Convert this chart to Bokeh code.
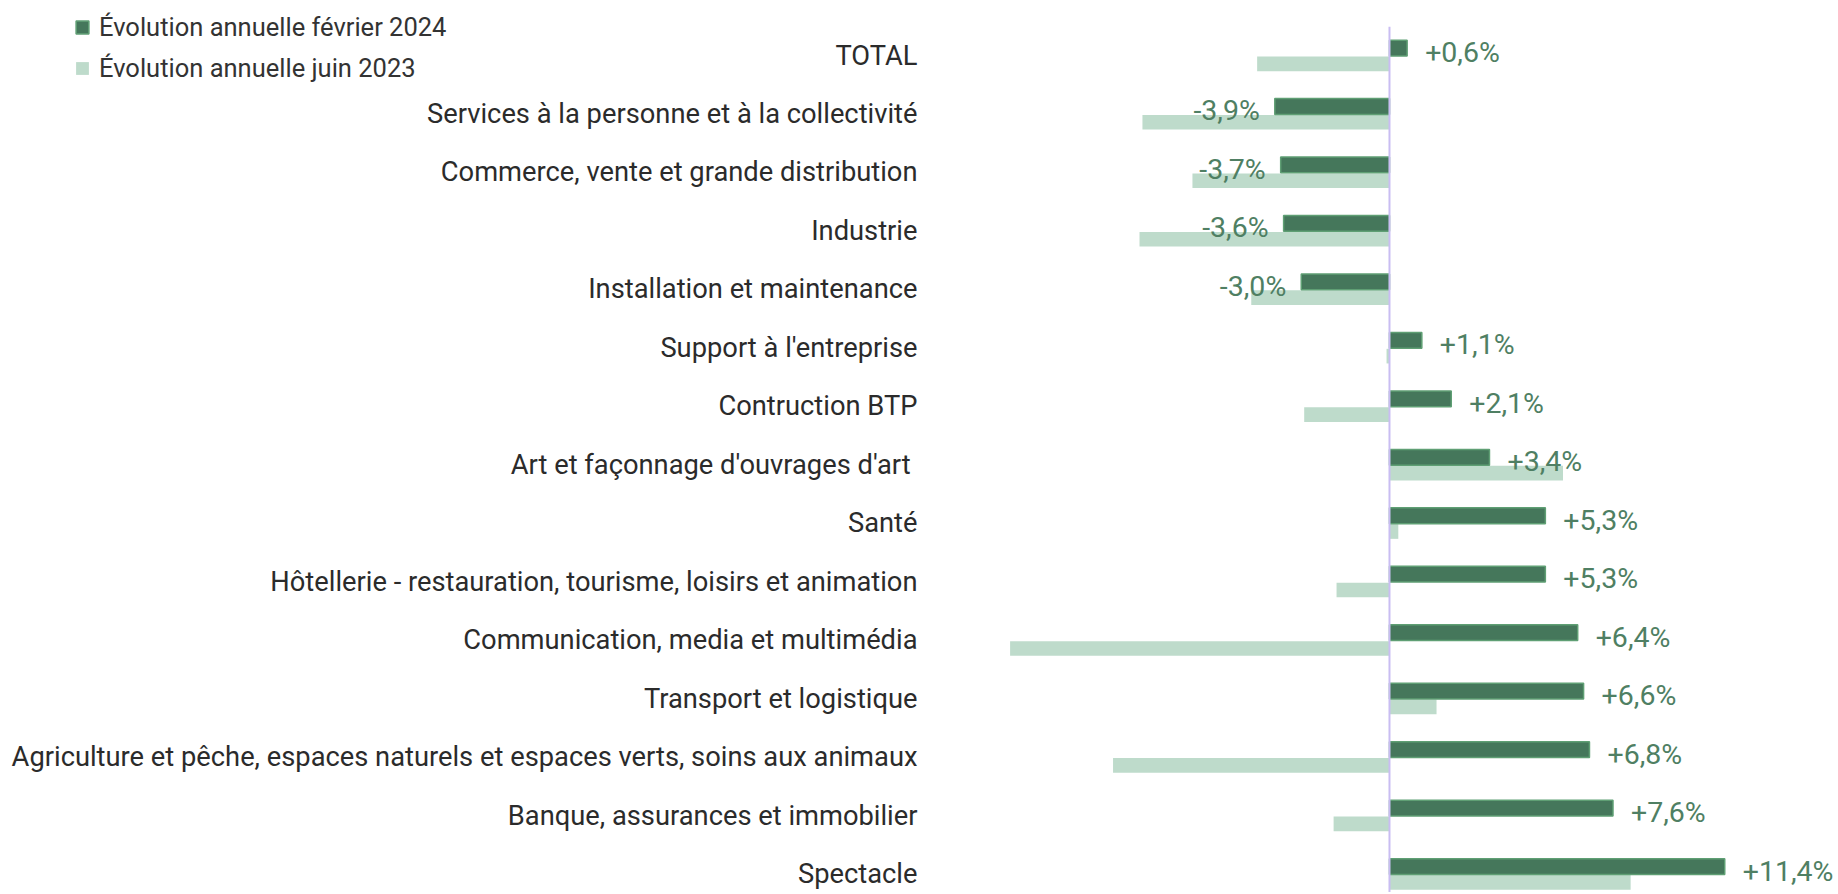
import numpy as np
from bokeh.plotting import figure
from bokeh.models import ColumnDataSource, Range1d, Legend, LegendItem
from bokeh.core.properties import value
from bokeh.embed import file_html
from bokeh.resources import INLINE

categories = [
    "TOTAL",
    "Services à la personne et à la collectivité",
    "Commerce, vente et grande distribution",
    "Industrie",
    "Installation et maintenance",
    "Support à l'entreprise",
    "Contruction BTP",
    "Art  et façonnage d'ouvrages d'art",
    "Santé",
    "Hôtellerie - restauration, tourisme, loisirs et animation",
    "Communication, media et multimédia",
    "Transport et logistique",
    "Agriculture et pêche, espaces naturels et espaces verts, soins aux animaux",
    "Banque, assurances et immobilier",
    "Spectacle",
]
fev_2024 = [0.6, -3.9, -3.7, -3.6, -3.0, 1.1, 2.1, 3.4, 5.3, 5.3, 6.4, 6.6, 6.8, 7.6, 11.4]
juin_2023 = [-4.5, -8.4, -6.7, -8.5, -4.7, -0.1, -2.9, 5.9, 0.3, -1.8, -12.9, 1.6, -9.4, -1.9, 8.2]
series_names = ["Évolution annuelle février 2024", "Évolution annuelle juin 2023"]

DARK = "#45775b"
DARK_EDGE = "#5f9f74"
LIGHT = "#bedbcb"
VALUE_TXT = "#4f7f63"
CAT_TXT = "#2b2b2b"
FONT = "Roboto"

n = len(categories)
ypos = np.arange(n)[::-1].astype(float)  # TOTAL on top

src = ColumnDataSource(dict(
    cat=categories,
    y=ypos,
    y_dark=ypos + 0.145,
    y_light=ypos - 0.125,
    fev=fev_2024,
    juin=juin_2023,
    zero=[0.0] * n,
))

labels_txt = [("%+.1f%%" % v).replace(".", ",") for v in fev_2024]
pos_idx = [i for i, v in enumerate(fev_2024) if v >= 0]
neg_idx = [i for i, v in enumerate(fev_2024) if v < 0]
pos_src = ColumnDataSource(dict(x=[fev_2024[i] for i in pos_idx], y=[ypos[i] for i in pos_idx],
                                t=[labels_txt[i] for i in pos_idx]))
neg_src = ColumnDataSource(dict(x=[fev_2024[i] for i in neg_idx], y=[ypos[i] for i in neg_idx],
                                t=[labels_txt[i] for i in neg_idx]))

p = figure(width=1836, height=892, output_backend="svg", toolbar_location=None,
           x_range=Range1d(-47.23, 15.20), y_range=Range1d(-0.299, 14.958),
           x_axis_type=None, y_axis_type=None, min_border=0)
p.outline_line_color = None
p.grid.visible = False
p.background_fill_color = "white"

light = p.hbar(y="y_light", left="zero", right="juin", height=0.25, source=src,
               fill_color=LIGHT, line_color=None)
dark = p.hbar(y="y_dark", left="zero", right="fev", height=0.27, source=src,
              fill_color=DARK, line_color=DARK_EDGE, line_width=1.5)

# zero line
p.segment(x0=[0], y0=[-0.4], x1=[0], y1=[ypos.max() + 0.51], line_color="#c9bdf2", line_width=2)

# category labels
p.text(x="zero", y="y", text="cat", source=src, x_offset=-472, y_offset=-1,
       text_align="right", text_baseline="middle", text_font=value(FONT),
       text_font_size="27.3px", text_color=CAT_TXT)

# value labels
p.text(x="x", y="y", text="t", source=pos_src, x_offset=18, y_offset=-4,
       text_align="left", text_baseline="middle", text_font=value(FONT),
       text_font_size="28.5px", text_color=VALUE_TXT)
p.text(x="x", y="y", text="t", source=neg_src, x_offset=-15, y_offset=-4,
       text_align="right", text_baseline="middle", text_font=value(FONT),
       text_font_size="28.5px", text_color=VALUE_TXT)

legend = Legend(items=[LegendItem(label=series_names[0], renderers=[dark]),
                       LegendItem(label=series_names[1], renderers=[light])],
                location=(74, 809), orientation="vertical",
                glyph_width=16, glyph_height=16, label_standoff=9, spacing=11,
                padding=0, margin=0, border_line_color=None, background_fill_alpha=0,
                label_text_font=FONT, label_text_font_size="25.5px", label_text_color="#333333")
p.add_layout(legend)

open("out.html", "w").write(file_html(p, INLINE))
